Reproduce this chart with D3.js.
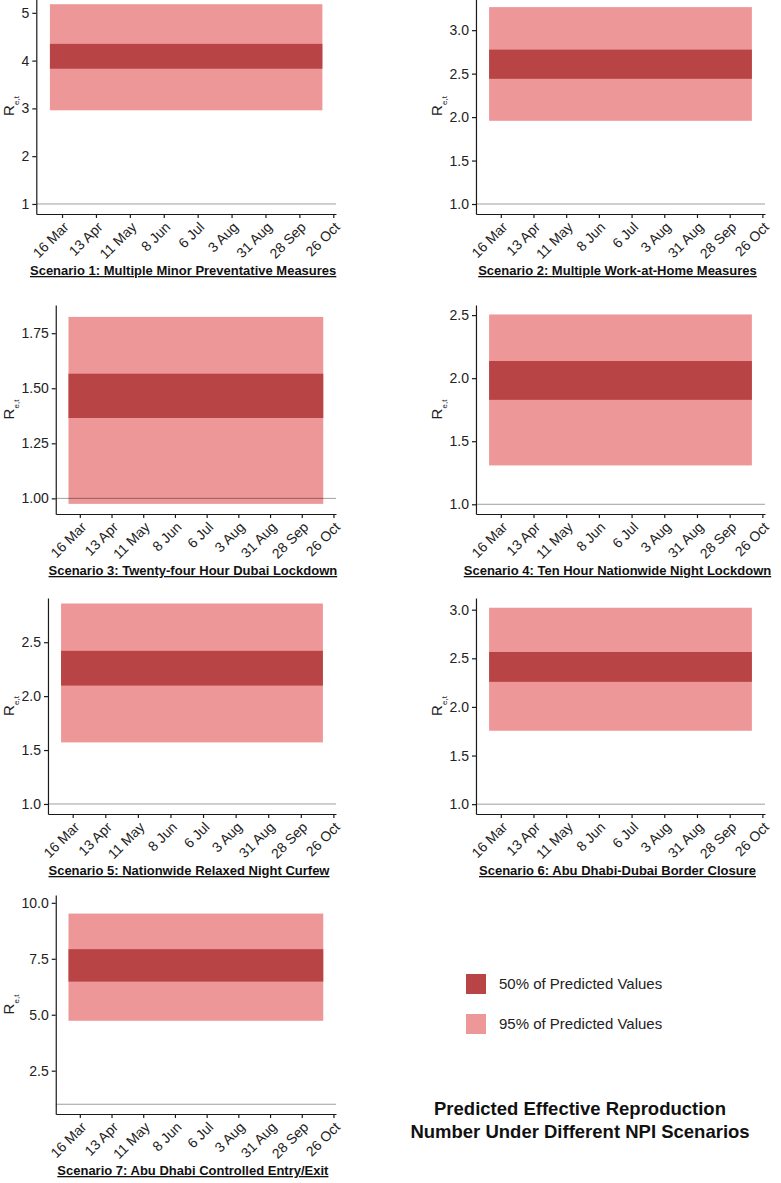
<!DOCTYPE html>
<html>
<head>
<meta charset="utf-8">
<script src="https://cdn.jsdelivr.net/npm/d3@7"></script>
<style>
body { margin: 0; background: #fff; }
text { font-family: "Liberation Sans", Arial, Helvetica, sans-serif; }
</style>
</head>
<body>
<div id="chart"></div>
<script>
const width = 781;
const height = 1183;

// data
const scenarios = [
    "Scenario 1: Multiple Minor Preventative Measures",
    "Scenario 2: Multiple Work-at-Home Measures",
    "Scenario 3: Twenty-four Hour Dubai Lockdown",
    "Scenario 4: Ten Hour Nationwide Night Lockdown",
    "Scenario 5: Nationwide Relaxed Night Curfew",
    "Scenario 6: Abu Dhabi-Dubai Border Closure",
    "Scenario 7: Abu Dhabi Controlled Entry/Exit"
];
const lo95 = [2.96, 1.957, 0.975, 1.308, 1.571, 1.755, 4.73];
const lo50 = [3.83, 2.44, 1.365, 1.828, 2.098, 2.258, 6.48];
const hi50 = [4.35, 2.776, 1.566, 2.136, 2.42, 2.565, 7.93];
const hi95 = [5.18, 3.265, 1.824, 2.505, 2.859, 3.02, 9.52];
const yMin = [0.79, 0.885, 0.929, 0.923, 0.907, 0.899, 0.565];
const yMax = [5.31, 3.37, 1.878, 2.58, 2.91, 3.12, 10.35];
const yTickLabels = [
    ["1", "2", "3", "4", "5"],
    ["1.0", "1.5", "2.0", "2.5", "3.0"],
    ["1.00", "1.25", "1.50", "1.75"],
    ["1.0", "1.5", "2.0", "2.5"],
    ["1.0", "1.5", "2.0", "2.5"],
    ["1.0", "1.5", "2.0", "2.5", "3.0"],
    ["2.5", "5.0", "7.5", "10.0"]
];
const dateRange = ["2020-03-06", "2020-10-17"];
const xTickLabels = ["16 Mar", "13 Apr", "11 May", "8 Jun", "6 Jul", "3 Aug", "31 Aug", "28 Sep", "26 Oct"];
const threshold = 1;
const legendLabels = ["50% of Predicted Values", "95% of Predicted Values"];
const titleLines = ["Predicted Effective Reproduction", "Number Under Different NPI Scenarios"];

const col50 = "#B84446";
const col95 = "#EE9799";

// layout
const cellX = [0, 428];
const rightEdge = [336, 765];
const rowTop = [-2, 305, 598, 895];
const rowBottom = [214, 514, 814, 1114];

const svg = d3.select("#chart")
    .append("svg")
    .attr("width", width)
    .attr("height", height);

const parseDay = d3.utcParse("%Y-%m-%d");
const parseTick = d3.utcParse("%d %b %Y");
const start = parseDay(dateRange[0]);
const end = parseDay(dateRange[1]);
const pad = (end - start) * 0.05;
const tickDates = xTickLabels.map(s => parseTick(s + " 2020"));

// helper to measure tick label width
const measure = svg.append("text").style("font-size", "14px");
function textWidth(s) {
    measure.text(s);
    return measure.node().getComputedTextLength();
}

scenarios.forEach((name, i) => {
    const col = i % 2;
    const row = Math.floor(i / 2);
    const labels = yTickLabels[i];
    const w = d3.max(labels, textWidth);
    const left = cellX[col] + 28.5 + w;
    const right = rightEdge[col];
    const top = rowTop[row];
    const bottom = rowBottom[row];

    const x = d3.scaleUtc()
        .domain([new Date(+start - pad), new Date(+end + pad)])
        .range([left, right]);
    const y = d3.scaleLinear()
        .domain([yMin[i], yMax[i]])
        .range([bottom, top]);

    const g = svg.append("g");

    g.append("rect")
        .attr("x", x(start))
        .attr("width", x(end) - x(start))
        .attr("y", y(hi95[i]))
        .attr("height", y(lo95[i]) - y(hi95[i]))
        .attr("fill", col95);
    g.append("rect")
        .attr("x", x(start))
        .attr("width", x(end) - x(start))
        .attr("y", y(hi50[i]))
        .attr("height", y(lo50[i]) - y(hi50[i]))
        .attr("fill", col50);

    g.append("line")
        .attr("x1", left)
        .attr("x2", right)
        .attr("y1", y(threshold))
        .attr("y2", y(threshold))
        .attr("stroke", "#000")
        .attr("stroke-opacity", 0.38)
        .attr("stroke-width", 1);

    const yAxis = g.append("g")
        .attr("transform", `translate(${left},0)`)
        .call(d3.axisLeft(y)
            .tickValues(labels.map(Number))
            .tickFormat((d, k) => labels[k])
            .tickSize(4)
            .tickSizeOuter(0)
            .tickPadding(3));
    const xAxis = g.append("g")
        .attr("transform", `translate(0,${bottom})`)
        .call(d3.axisBottom(x)
            .tickValues(tickDates)
            .tickFormat((d, k) => xTickLabels[k])
            .tickSize(4)
            .tickSizeOuter(0));

    [yAxis, xAxis].forEach(a => {
        a.selectAll("path, line").attr("stroke", "#1a1a1a").attr("stroke-width", 1.2);
        a.selectAll("text")
            .attr("fill", "#222")
            .style("font-size", "14px")
            .style("font-family", "'Liberation Sans', Arial, sans-serif");
    });

    xAxis.selectAll("text")
        .attr("x", 0)
        .attr("y", 0)
        .attr("dy", 0)
        .attr("text-anchor", "end")
        .attr("transform", "translate(7,14) rotate(-45)");

    // y title R_e,t
    const yt = g.append("text")
        .attr("transform", `translate(${cellX[col] + 14},${(top + bottom) / 2}) rotate(-90)`)
        .attr("text-anchor", "middle")
        .style("font-size", "15px")
        .attr("fill", "#222");
    yt.append("tspan").text("R");
    yt.append("tspan")
        .attr("baseline-shift", "sub")
        .style("font-size", "8px")
        .text("e,t");

    g.append("text")
        .attr("x", (left + right) / 2 - 3)
        .attr("y", bottom + 61)
        .attr("text-anchor", "middle")
        .style("font-size", "13px")
        .style("font-weight", "bold")
        .style("text-decoration", "underline")
        .attr("fill", "#111")
        .text(name);
});

measure.remove();

// legend
const legend = svg.append("g").attr("transform", "translate(466,974)");
legendLabels.forEach((label, k) => {
    legend.append("rect")
        .attr("x", 0)
        .attr("y", k * 40)
        .attr("width", 20)
        .attr("height", 20)
        .attr("fill", k === 0 ? col50 : col95);
    legend.append("text")
        .attr("x", 33)
        .attr("y", k * 40 + 10)
        .attr("dy", "0.35em")
        .style("font-size", "15px")
        .attr("fill", "#222")
        .text(label);
});

// overall title
svg.append("g")
    .selectAll("text")
    .data(titleLines)
    .join("text")
    .attr("x", 580)
    .attr("y", (d, k) => 1115 + k * 22.5)
    .attr("text-anchor", "middle")
    .style("font-size", "18.5px")
    .style("font-weight", "bold")
    .attr("fill", "#111")
    .text(d => d);
</script>
</body>
</html>
